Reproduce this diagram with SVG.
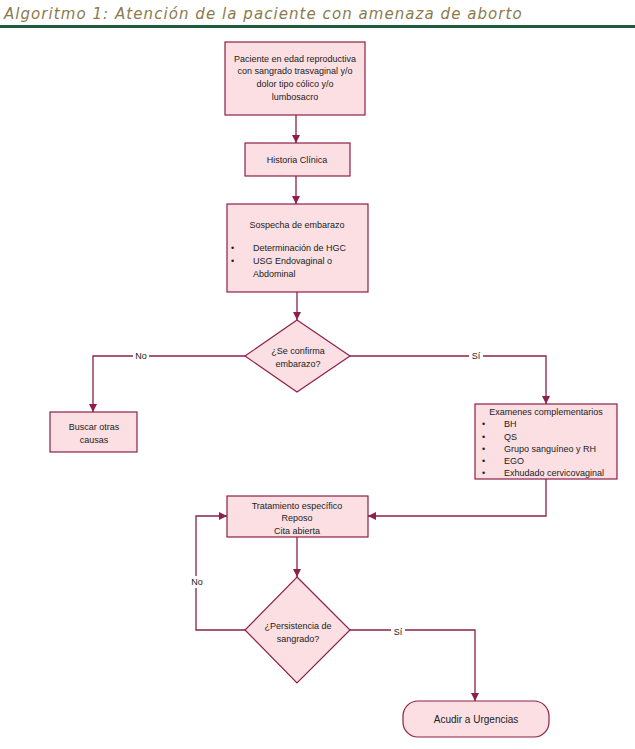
<svg xmlns="http://www.w3.org/2000/svg" width="635" height="749" viewBox="0 0 635 749">
<defs>
<style>
.box{fill:#fbdfe2;stroke:#8e1f48;stroke-width:1.2}
.t{font-family:"Liberation Sans",Arial,sans-serif;font-size:9px;fill:#222}
.c{text-anchor:middle}
.lbl{font-family:"Liberation Sans",Arial,sans-serif;font-size:9px;fill:#222;text-anchor:middle}
.conn{fill:none;stroke:#8e1f48;stroke-width:1.3}
.title{font-family:"DejaVu Sans","Open Sans",sans-serif;font-style:italic;font-size:15px;fill:#8a7a4e;letter-spacing:0.3px}
</style>
<marker id="ah" viewBox="0 0 10 10" refX="10" refY="5" markerWidth="8" markerHeight="8" markerUnits="userSpaceOnUse" orient="auto">
<path d="M0,0 L10,5 L0,10 z" fill="#8e1f48"/>
</marker>
</defs>
<rect width="635" height="749" fill="#ffffff"/>
<text class="title" x="4" y="19" textLength="518" lengthAdjust="spacing">Algoritmo 1: Atención de la paciente con amenaza de aborto</text>
<line x1="0" y1="26.5" x2="635" y2="26.5" stroke="#1f5a3f" stroke-width="3"/>

<g id="connectors">
<path class="conn" d="M296,115 V143" marker-end="url(#ah)"/>
<path class="conn" d="M296,176 V204" marker-end="url(#ah)"/>
<path class="conn" d="M297,292 V320" marker-end="url(#ah)"/>
<path class="conn" d="M245,356 H93 V412" marker-end="url(#ah)"/>
<path class="conn" d="M350,356 H546 V404" marker-end="url(#ah)"/>
<path class="conn" d="M546,479 V516 H368" marker-end="url(#ah)"/>
<path class="conn" d="M297,537 V577" marker-end="url(#ah)"/>
<path class="conn" d="M245,630 H196 V516 H227" marker-end="url(#ah)"/>
<path class="conn" d="M350,630 H475 V701" marker-end="url(#ah)"/>
<rect x="133" y="350" width="16" height="12" fill="#fff"/>
<text class="lbl" x="141" y="359">No</text>
<rect x="469" y="350" width="14" height="12" fill="#fff"/>
<text class="lbl" x="476" y="359">Sí</text>
<rect x="189" y="576" width="16" height="12" fill="#fff"/>
<text class="lbl" x="197" y="585">No</text>
<rect x="391" y="626" width="14" height="12" fill="#fff"/>
<text class="lbl" x="398" y="635">Sí</text>
</g>

<g id="n1">
<rect class="box" x="225" y="42" width="140" height="73"/>
<text class="t c" x="295" y="62">Paciente en edad reproductiva</text>
<text class="t c" x="295" y="74">con sangrado trasvaginal y/o</text>
<text class="t c" x="295" y="87">dolor tipo cólico y/o</text>
<text class="t c" x="295" y="100">lumbosacro</text>
</g>

<g id="n2">
<rect class="box" x="245" y="143" width="105" height="33"/>
<text class="t c" x="297" y="163">Historia Clínica</text>
</g>

<g id="n3">
<rect class="box" x="227" y="204" width="141" height="88"/>
<text class="t c" x="297" y="228">Sospecha de embarazo</text>
<text class="t" x="231" y="251">•</text>
<text class="t" x="253" y="251">Determinación de HGC</text>
<text class="t" x="231" y="264">•</text>
<text class="t" x="253" y="264">USG Endovaginal o</text>
<text class="t" x="253" y="277">Abdominal</text>
</g>

<g id="d1">
<polygon class="box" points="297,320 350,356 297,392 245,356"/>
<text class="t c" x="298" y="354">¿Se confirma</text>
<text class="t c" x="298" y="367">embarazo?</text>
</g>

<g id="n4">
<rect class="box" x="50" y="412" width="87" height="40"/>
<text class="t c" x="94" y="430">Buscar otras</text>
<text class="t c" x="94" y="443">causas</text>
</g>

<g id="n5">
<rect class="box" x="475" y="404" width="142" height="75"/>
<text class="t c" x="546" y="415">Examenes complementarios</text>
<text class="t" x="482" y="427">•</text><text class="t" x="504" y="427">BH</text>
<text class="t" x="482" y="440">•</text><text class="t" x="504" y="440">QS</text>
<text class="t" x="482" y="452">•</text><text class="t" x="504" y="452">Grupo sanguíneo y RH</text>
<text class="t" x="482" y="464">•</text><text class="t" x="504" y="464">EGO</text>
<text class="t" x="482" y="476">•</text><text class="t" x="504" y="476">Exhudado cervicovaginal</text>
</g>

<g id="n6">
<rect class="box" x="227" y="496" width="141" height="41"/>
<text class="t c" x="297" y="509">Tratamiento específico</text>
<text class="t c" x="297" y="521">Reposo</text>
<text class="t c" x="297" y="534">Cita abierta</text>
</g>

<g id="d2">
<polygon class="box" points="297,577 350,630 297,683 245,630"/>
<text class="t c" x="298" y="629">¿Persistencia de</text>
<text class="t c" x="298" y="642">sangrado?</text>
</g>

<g id="n7">
<rect class="box" x="403" y="701" width="146" height="36" rx="15" ry="15"/>
<text class="t c" x="476" y="723" style="font-size:10px">Acudir a Urgencias</text>
</g>
</svg>
